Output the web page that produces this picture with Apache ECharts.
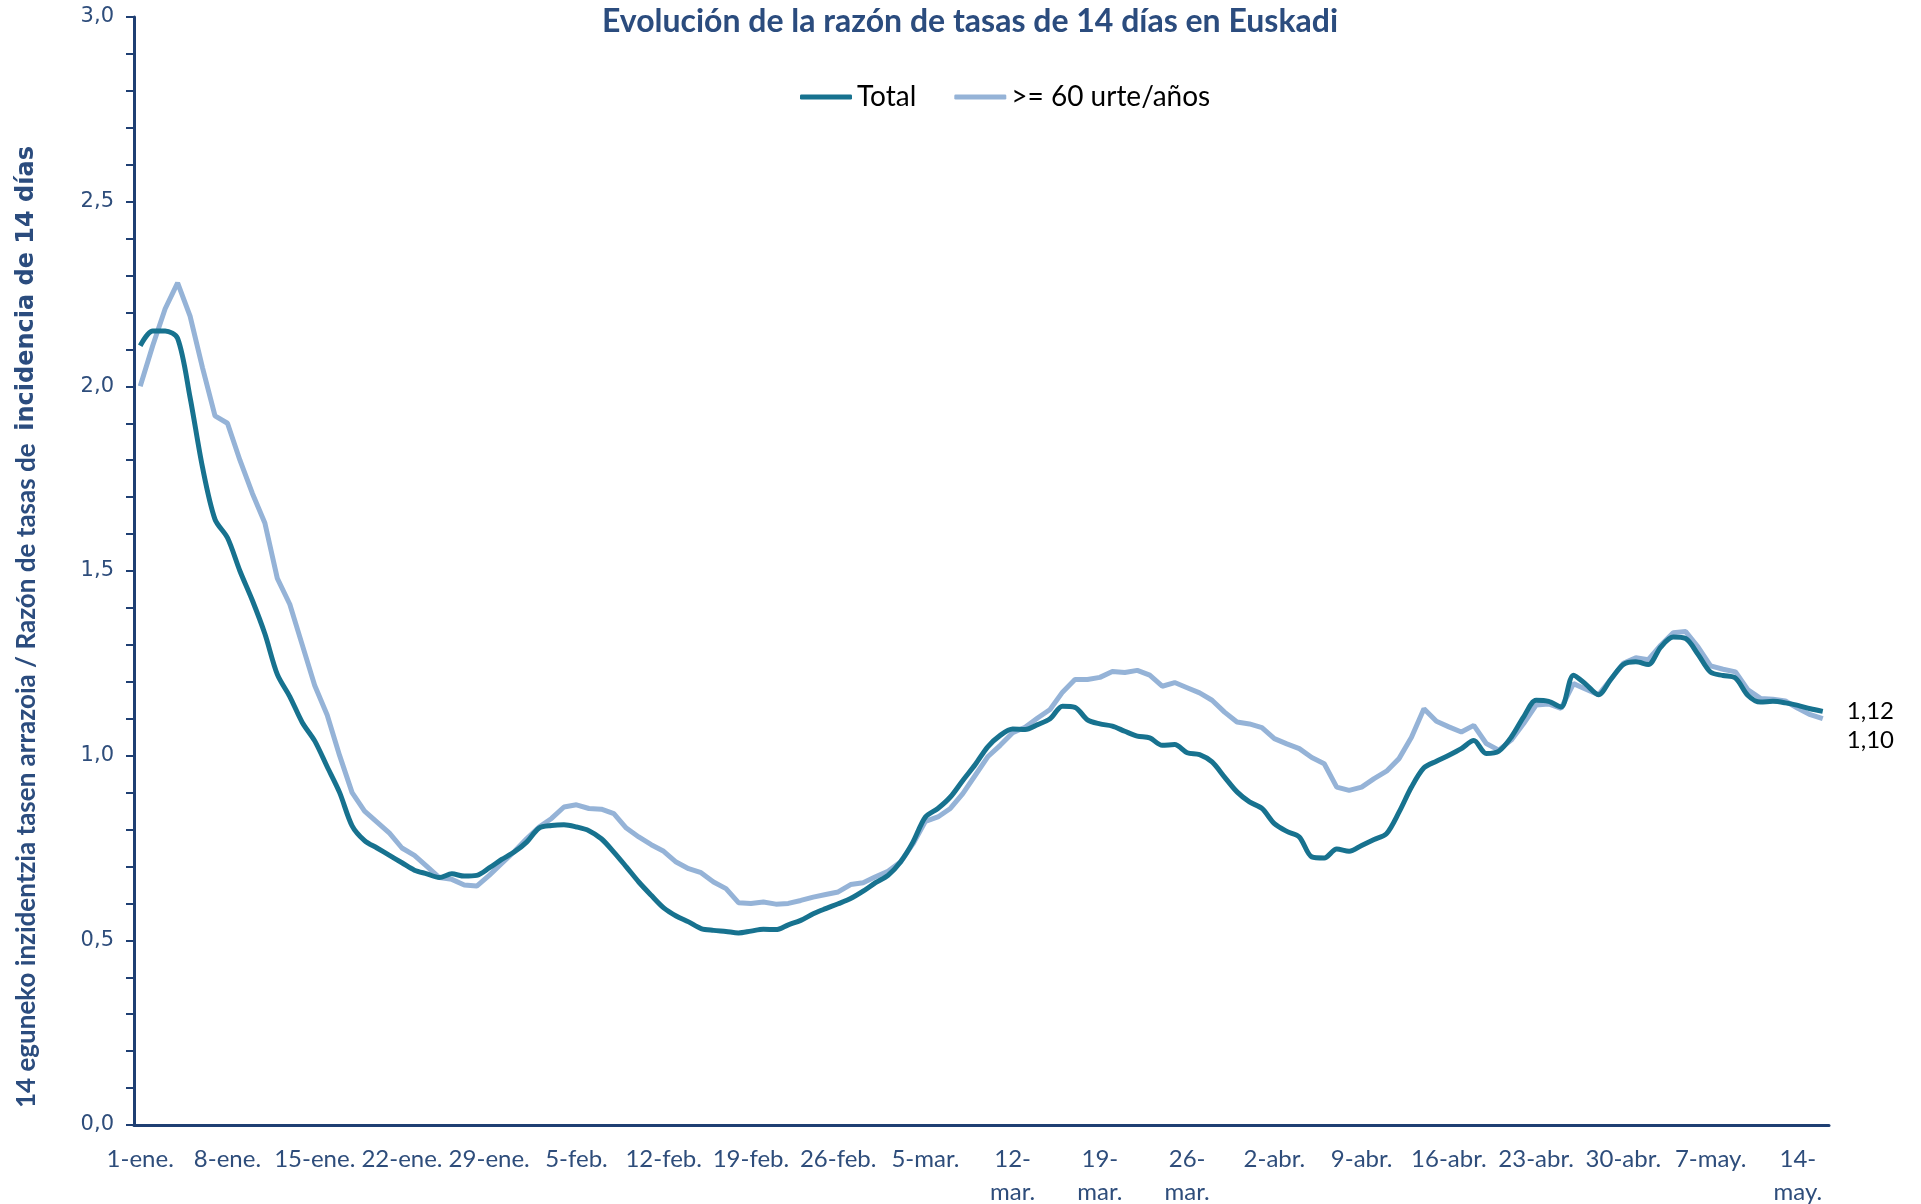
<!DOCTYPE html>
<html>
<head>
<meta charset="utf-8">
<title>Evolución de la razón de tasas de 14 días en Euskadi</title>
<script src="https://cdn.jsdelivr.net/npm/echarts@6/dist/echarts.min.js"></script>
<style>
  html, body { margin: 0; padding: 0; background: #fff; }
  #main { width: 1921px; height: 1204px; }
</style>
</head>
<body>
<div id="main"></div>
<script>
// dias: 1-ene. .. 16-may.
var months = [["ene.", 31], ["feb.", 28], ["mar.", 31], ["abr.", 30], ["may.", 16]];
var categories = [];
months.forEach(function (m) {
  for (var d = 1; d <= m[1]; d++) categories.push(d + "-" + m[0]);
});

// etiquetas que Excel parte en dos lineas
var wrappedLabels = ["12-mar.", "19-mar.", "26-mar.", "14-may."];

var seriesNames = ["Total", ">= 60 urte/años"];

var total = [
  2.11, 2.15, 2.15, 2.13, 1.97, 1.78, 1.64, 1.59, 1.50, 1.42,
  1.33, 1.22, 1.16, 1.09, 1.04, 0.97, 0.90, 0.81, 0.77, 0.75,
  0.73, 0.71, 0.69, 0.68, 0.67, 0.68, 0.674, 0.676, 0.696, 0.719,
  0.739, 0.766, 0.804, 0.811, 0.813, 0.807, 0.797, 0.775, 0.739, 0.699,
  0.658, 0.622, 0.588, 0.566, 0.55, 0.532, 0.527, 0.524, 0.52, 0.525,
  0.53, 0.529, 0.542, 0.554, 0.572, 0.586, 0.599, 0.613, 0.633, 0.656,
  0.676, 0.712, 0.766, 0.834, 0.857, 0.888, 0.933, 0.976, 1.024, 1.055,
  1.072, 1.071, 1.084, 1.10, 1.134, 1.131, 1.097, 1.086, 1.08, 1.066,
  1.053, 1.048, 1.028, 1.03, 1.008, 1.003, 0.983, 0.942, 0.902, 0.875,
  0.857, 0.816, 0.795, 0.78, 0.726, 0.723, 0.747, 0.741, 0.757, 0.773,
  0.789, 0.847, 0.915, 0.967, 0.985, 1.001, 1.019, 1.041, 1.006, 1.012,
  1.05, 1.105, 1.15, 1.147, 1.132, 1.218, 1.193, 1.165, 1.207, 1.247,
  1.254, 1.247, 1.294, 1.321, 1.317, 1.274, 1.226, 1.217, 1.21, 1.163,
  1.145, 1.147, 1.143, 1.136, 1.127, 1.12
];

var over60 = [
  2.00, 2.11, 2.21, 2.28, 2.19, 2.05, 1.92, 1.90, 1.80, 1.71,
  1.63, 1.48, 1.41, 1.30, 1.19, 1.11, 1.00, 0.90, 0.85, 0.82,
  0.79, 0.75, 0.73, 0.70, 0.67, 0.665, 0.65, 0.647, 0.676, 0.708,
  0.74, 0.775, 0.807, 0.83, 0.861, 0.867, 0.857, 0.855, 0.843, 0.804,
  0.78, 0.759, 0.741, 0.712, 0.694, 0.683, 0.658, 0.64, 0.602, 0.60,
  0.604, 0.598, 0.60, 0.608, 0.617, 0.624, 0.631, 0.651, 0.656, 0.672,
  0.687, 0.712, 0.761, 0.822, 0.834, 0.857, 0.897, 0.947, 0.997, 1.028,
  1.062, 1.077, 1.102, 1.125, 1.172, 1.206, 1.206, 1.212, 1.228, 1.225,
  1.231, 1.218, 1.188, 1.198, 1.184, 1.17, 1.15, 1.118, 1.091, 1.086,
  1.076, 1.046, 1.032, 1.019, 0.995, 0.978, 0.915, 0.906, 0.915, 0.938,
  0.958, 0.992, 1.05, 1.127, 1.093, 1.078, 1.064, 1.082, 1.033, 1.015,
  1.042, 1.087, 1.137, 1.14, 1.128, 1.195, 1.18, 1.165, 1.207, 1.25,
  1.265, 1.26, 1.299, 1.333, 1.336, 1.294, 1.243, 1.234, 1.227, 1.178,
  1.155, 1.153, 1.148, 1.128, 1.111, 1.10
];

var axisColor = "#1F3F73";
var labelColor = "#2E4D7B";
var titleColor = "#2B4C7E";

function comma(v, n) {
  return v.toFixed(n).replace(".", ",");
}

var myChart = echarts.init(document.getElementById("main"));
myChart.setOption({
  animation: false,
  title: {
    text: "Evolución de la razón de tasas de 14 días en Euskadi",
    left: 965,
    textAlign: "center",
    top: 1,
    textStyle: {
      fontFamily: "Lato",
      fontWeight: "bold",
      fontSize: 32,
      color: titleColor,
    },
  },
  legend: {
    left: 795,
    top: 78,
    icon: "roundRect",
    itemWidth: 52,
    itemHeight: 5,
    itemGap: 38,
    textStyle: { fontFamily: "Lato", fontSize: 28, color: "#000" },
    data: seriesNames,
  },
  grid: { left: 134, right: 92, top: 17, bottom: 79, outerBoundsMode: "none", containLabel: false },
  xAxis: {
    type: "category",
    data: categories,
    boundaryGap: true,
    axisLine: { lineStyle: { color: axisColor, width: 3 } },
    axisTick: { show: false },
    axisLabel: {
      interval: 6,
      margin: 18,
      fontFamily: "Lato",
      fontSize: 24,
      lineHeight: 33,
      color: labelColor,
      formatter: function (v) {
        return wrappedLabels.indexOf(v) >= 0 ? v.replace("-", "-\n") : v;
      },
    },
  },
  yAxis: {
    type: "value",
    min: 0,
    max: 3,
    interval: 0.5,
    splitLine: { show: false },
    axisLine: { show: true, lineStyle: { color: axisColor, width: 3 } },
    axisTick: { show: true, length: 8, lineStyle: { color: axisColor, width: 2 } },
    minorTick: { show: true, splitNumber: 5, length: 8, lineStyle: { color: axisColor, width: 2 } },
    axisLabel: {
      margin: 20,
      fontFamily: "DejaVu Sans",
      fontSize: 21,
      color: labelColor,
      formatter: function (v) {
        return comma(v, 1);
      },
    },
  },
  graphic: [
    {
      type: "text",
      x: 27,
      y: 627,
      rotation: Math.PI / 2,
      style: {
        text: "{a|14 eguneko inzidentzia tasen arrazoia / Razón de tasas de  }{b|incidencia de 14 días}",
        align: "center",
        verticalAlign: "middle",
        rich: {
          a: { fontFamily: "Lato", fontWeight: "bold", fontSize: 26, fill: titleColor },
          b: { fontFamily: "DejaVu Sans", fontWeight: "bold", fontSize: 24, fill: titleColor },
        },
      },
    },
  ],
  series: [
    {
      name: seriesNames[0],
      type: "line",
      data: total,
      smooth: 0.3,
      symbol: "none",
      lineStyle: { color: "#17728F", width: 5 },
      itemStyle: { color: "#17728F" },
      z: 3,
      endLabel: {
        show: true,
        distance: 24,
        offset: [0, 0],
        fontFamily: "Lato",
        fontSize: 24,
        color: "#000",
        formatter: function (p) {
          return comma(p.value, 2);
        },
      },
    },
    {
      name: seriesNames[1],
      type: "line",
      data: over60,
      symbol: "none",
      lineStyle: { color: "#95B3D7", width: 5 },
      itemStyle: { color: "#95B3D7" },
      z: 2,
      endLabel: {
        show: true,
        distance: 24,
        offset: [0, 22],
        fontFamily: "Lato",
        fontSize: 24,
        color: "#000",
        formatter: function (p) {
          return comma(p.value, 2);
        },
      },
    },
  ],
});
</script>
</body>
</html>
